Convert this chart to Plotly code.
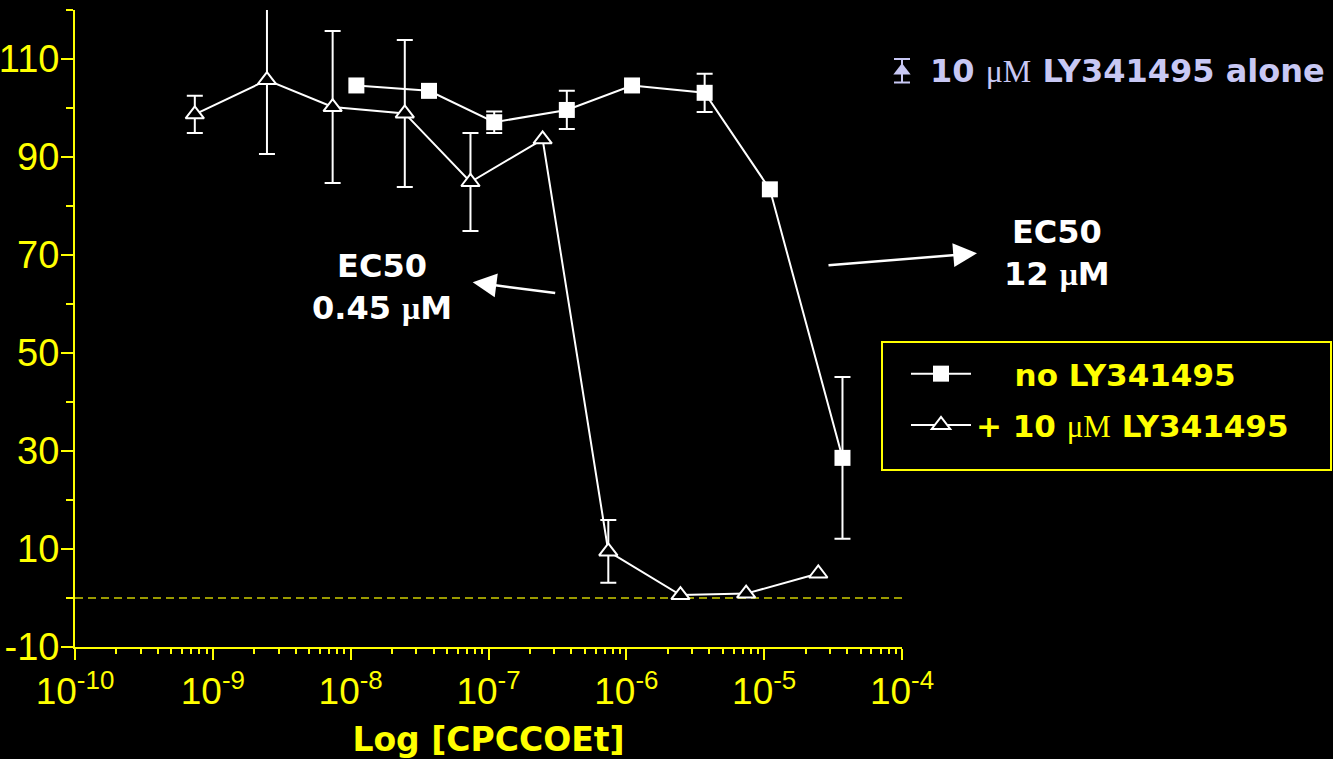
import plotly.graph_objects as go

# ---------------- data ----------------
conc_no = [1.1e-8, 3.7e-8, 1.1e-7, 3.7e-7, 1.1e-6, 3.7e-6, 1.1e-5, 3.7e-5]
resp_no = [104.6, 103.5, 97.1, 99.6, 104.6, 103.1, 83.4, 28.6]
err_no = [0, 0, 2.2, 3.9, 0, 3.9, 0, 16.5]

conc_ly = [7.4e-10, 2.47e-9, 7.4e-9, 2.47e-8, 7.4e-8, 2.47e-7, 7.4e-7, 2.47e-6, 7.4e-6, 2.47e-5]
resp_ly = [98.7, 105.7, 100.2, 98.9, 84.9, 93.6, 9.5, 0.6, 0.9, 5.0]
err_ly = [3.8, 15.1, 15.5, 15.0, 10.0, 0, 6.4, 0, 0, 0]

conc_alone = [1e-4]
resp_alone = [107.6]
err_alone = [2.4]

x_tick_exps = [-10, -9, -8, -7, -6, -5, -4]
y_tick_vals = [-10, 10, 30, 50, 70, 90, 110]
y_minor_vals = [0, 20, 40, 60, 80, 100, 120]

name_no = "\u00a0\u00a0\u00a0\u2009no LY341495"
name_ly = "+ 10 <span style='font-family:Liberation Serif;font-weight:normal'>μM</span> LY341495"

YEL = "#FFFF00"
LAV = "#C8C8F4"
SANS = "Liberation Sans, Arial, sans-serif"
BOLD = "DejaVu Sans, sans-serif"

W, H = 1333, 759
# plot area in pixels
PL, PR, PT, PB = 75, 902, 10, 647

fig = go.Figure()


def err_only(xs, ys, es):
    idx = [i for i, e in enumerate(es) if e > 0]
    return go.Scatter(
        x=[xs[i] for i in idx], y=[ys[i] for i in idx], mode="markers",
        marker=dict(size=1, opacity=0),
        error_y=dict(type="data", array=[es[i] for i in idx], color="white", thickness=2, width=8),
        showlegend=False, hoverinfo="skip",
    )


fig.add_trace(err_only(conc_no, resp_no, err_no))
fig.add_trace(err_only(conc_ly, resp_ly, err_ly))

fig.add_trace(go.Scatter(
    x=conc_no, y=resp_no, mode="lines+markers", name=name_no, legendgroup="a",
    line=dict(color="white", width=2),
    marker=dict(symbol="square", size=16, color="white"),
))
fig.add_trace(go.Scatter(
    x=conc_ly, y=resp_ly, mode="lines+markers", name=name_ly, legendgroup="b",
    line=dict(color="white", width=2),
    marker=dict(symbol="triangle-up", size=16, color="black", line=dict(color="white", width=2)),
))
# "LY341495 alone" point, drawn on a twin axis whose domain runs past the plot edge
fig.add_trace(go.Scatter(
    x=conc_alone, y=resp_alone, mode="markers", showlegend=False,
    xaxis="x2", yaxis="y2",
    marker=dict(symbol="triangle-up", size=15, color=LAV),
    error_y=dict(type="data", array=err_alone, color=LAV, thickness=2, width=8),
))

# zero reference line
fig.add_shape(type="line", xref="x domain", x0=0, x1=1, yref="y", y0=0, y1=0,
              line=dict(color="#9A9A00", width=2, dash="8px,5px"), layer="below")
# legend frame
fig.add_shape(type="rect", xref="paper", yref="paper",
              x0=882 / W, x1=1331 / W, y0=1 - 470 / H, y1=1 - 342 / H,
              line=dict(color=YEL, width=2), layer="below")

# annotations
mu = "<span style='font-family:Liberation Serif'>μ</span>"
fig.add_annotation(text="EC50<br>0.45 " + mu + "M", xref="paper", yref="paper",
                   x=382 / W, y=1 - 287 / H, xanchor="center", yanchor="middle", showarrow=False,
                   font=dict(family=BOLD, size=32, color="white", weight="bold"))
fig.add_annotation(text="EC50<br>12 " + mu + "M", xref="paper", yref="paper",
                   x=1057 / W, y=1 - 253 / H, xanchor="center", yanchor="middle", showarrow=False,
                   font=dict(family=BOLD, size=32, color="white", weight="bold"))
fig.add_annotation(text="10 <span style='font-family:Liberation Serif;font-weight:normal'>μM</span> LY341495 alone",
                   xref="paper", yref="paper", x=928 / W, y=1 - 71 / H, xanchor="left", yanchor="middle",
                   showarrow=False, font=dict(family=BOLD, size=32, color=LAV, weight="bold"))
# arrows
fig.add_annotation(text="", xref="paper", yref="paper", x=472.7 / W, y=1 - 282.3 / H, ax=84, ay=11,
                   showarrow=True, arrowhead=2, arrowsize=1.9, arrowwidth=2.5, arrowcolor="white")
fig.add_annotation(text="", xref="paper", yref="paper", x=977 / W, y=1 - 253.3 / H, ax=-150, ay=12,
                   showarrow=True, arrowhead=2, arrowsize=1.9, arrowwidth=2.5, arrowcolor="white")

dec_px = (PR - PL) / 6.0

fig.update_layout(
    width=W, height=H,
    margin=dict(l=0, r=0, t=0, b=0, autoexpand=False),
    paper_bgcolor="black", plot_bgcolor="rgba(0,0,0,0)",
    font=dict(family=SANS, color=YEL),
    showlegend=True,
    legend=dict(x=906 / W, y=1 - 347 / H, xanchor="left", yanchor="top",
                bgcolor="rgba(0,0,0,0)", borderwidth=0,
                font=dict(family=BOLD, size=31, color=YEL, weight="bold"),
                itemwidth=60, tracegroupgap=8, traceorder="grouped"),
    xaxis=dict(
        domain=[PL / W, PR / W], anchor="y",
        type="log", range=[-10, -4], showgrid=False, zeroline=False,
        showline=True, linecolor=YEL, linewidth=2,
        ticks="outside", ticklen=11, tickwidth=2, tickcolor=YEL,
        tickvals=[10.0 ** e for e in x_tick_exps],
        ticktext=["10<sup>%d</sup>" % e for e in x_tick_exps],
        tickfont=dict(family=SANS, size=37, color=YEL),
        minor=dict(tickvals=[m * 10.0 ** e for e in x_tick_exps[:-1] for m in range(2, 10)],
                   ticks="outside", ticklen=5, tickwidth=2, tickcolor=YEL, showgrid=False),
        title=dict(text="Log [CPCCOEt]", standoff=18,
                   font=dict(family=BOLD, size=33, color=YEL, weight="bold")),
    ),
    yaxis=dict(
        domain=[1 - PB / H, 1 - PT / H], anchor="x",
        range=[-10, 120], showgrid=False, zeroline=False,
        showline=True, linecolor=YEL, linewidth=2,
        ticks="outside", ticklen=12, tickwidth=2, tickcolor=YEL,
        tickvals=y_tick_vals, ticktext=[str(v) for v in y_tick_vals],
        tickfont=dict(family=SANS, size=38, color=YEL), ticklabelstandoff=-6,
        minor=dict(tickvals=y_minor_vals, ticks="outside", ticklen=7, tickwidth=2,
                   tickcolor=YEL, showgrid=False),
    ),
    xaxis2=dict(domain=[PL / W, 1.0], anchor="y2", type="log",
                range=[-10, -10 + (W - PL) / dec_px], visible=False),
    yaxis2=dict(domain=[1 - PB / H, 1 - PT / H], anchor="x2", range=[-10, 120], visible=False),
)

fig.write_html("out.html")
